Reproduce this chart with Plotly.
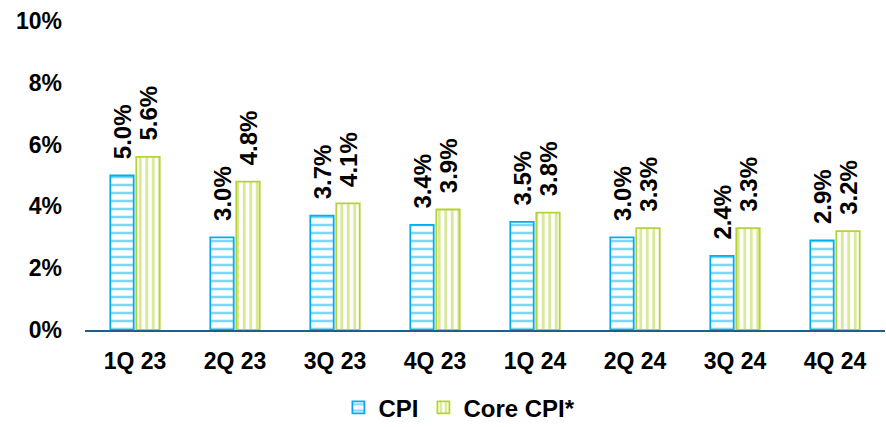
import plotly.graph_objects as go

categories = ["1Q 23", "2Q 23", "3Q 23", "4Q 23", "1Q 24", "2Q 24", "3Q 24", "4Q 24"]
cpi = [5.0, 3.0, 3.7, 3.4, 3.5, 3.0, 2.4, 2.9]
core_cpi = [5.6, 4.8, 4.1, 3.9, 3.8, 3.3, 3.3, 3.2]
y_ticks = [0, 2, 4, 6, 8, 10]
y_tick_labels = ["0%", "2%", "4%", "6%", "8%", "10%"]

BLUE = "#00AEEF"
GREEN = "#B5D334"
FONT = "Liberation Sans, Arial, sans-serif"
PAD = "\u00a0\u00a0"

fig = go.Figure()
fig.add_trace(go.Bar(
    name="CPI", x=categories, y=cpi,
    marker=dict(color="white", line=dict(color=BLUE, width=1.8),
                pattern=dict(shape="-", fgcolor=BLUE, bgcolor="white", size=8, solidity=0.32)),
    texttemplate=PAD + "%{y:.1f}%", textposition="outside", textangle=-90,
    constraintext="none",
    textfont=dict(family=FONT, size=24, color="black", weight="bold"),
    cliponaxis=False,
))
fig.add_trace(go.Bar(
    name="Core CPI*", x=categories, y=core_cpi,
    marker=dict(color="white", line=dict(color=GREEN, width=1.8),
                pattern=dict(shape="|", fgcolor=GREEN, bgcolor="white", size=6.5, solidity=0.45)),
    texttemplate=PAD + "%{y:.1f}%", textposition="outside", textangle=-90,
    constraintext="none",
    textfont=dict(family=FONT, size=24, color="black", weight="bold"),
    cliponaxis=False,
))

fig.update_layout(
    width=886, height=427,
    margin=dict(l=85, r=1, t=21, b=97, autoexpand=False),
    paper_bgcolor="white", plot_bgcolor="white",
    barmode="group", bargap=0.48, bargroupgap=0.1,
    font=dict(family=FONT, size=23, color="black"),
    showlegend=True,
    legend=dict(orientation="h", x=0.468, xanchor="center", y=-0.252, yanchor="middle",
                font=dict(family=FONT, size=24, color="black", weight="bold"),
                itemwidth=30, traceorder="normal", tracegroupgap=0),
)
fig.update_xaxes(
    showgrid=False, showline=True, linecolor="#1F5F8B", linewidth=2,
    ticks="", ticklabelstandoff=9,
    tickfont=dict(family=FONT, size=23, color="black", weight="bold"),
)
fig.update_yaxes(
    range=[0, 10], tickvals=y_ticks, ticktext=y_tick_labels,
    showgrid=False, zeroline=False, showline=False, ticks="",
    ticklabelstandoff=22,
    tickfont=dict(family=FONT, size=23, color="black", weight="bold"),
)

fig.write_html(
    "out.html",
    config={"displayModeBar": False},
    post_script="document.body.style.margin='0';document.body.style.overflow='hidden';",
)
